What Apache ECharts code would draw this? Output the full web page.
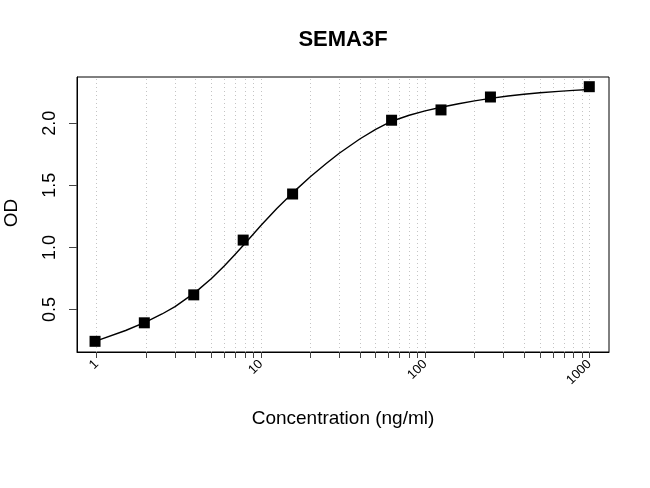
<!DOCTYPE html>
<html>
<head>
<meta charset="utf-8">
<script src="https://cdn.jsdelivr.net/npm/echarts@6/dist/echarts.min.js"></script>
<style>
html,body{margin:0;padding:0;background:#fff;}
#chart{width:650px;height:488px;}
</style>
</head>
<body>
<div id="chart"></div>
<script>
// Measured standards
const concentrations = [0.977, 1.95, 3.9, 7.8, 15.6, 62.5, 125, 250, 1000];
const odValues = [0.244, 0.393, 0.618, 1.059, 1.43, 2.024, 2.107, 2.211, 2.294];

// Fitted curve
const curveX = [0.977, 1.5, 2, 2.5, 3, 4, 5, 6, 7, 8, 10, 12.5, 15.6, 20, 25, 30, 40, 50, 62.5, 80, 100, 125, 160, 200, 250, 320, 400, 500, 650, 800, 1000];
const curveY = [0.243, 0.331, 0.401, 0.464, 0.523, 0.640, 0.750, 0.853, 0.947, 1.032, 1.177, 1.314, 1.439, 1.569, 1.675, 1.758, 1.873, 1.950, 2.016, 2.064, 2.099, 2.128, 2.157, 2.180, 2.200, 2.219, 2.233, 2.245, 2.256, 2.264, 2.271];

// Axis ticks and labels
const xTickValues = [1,2,3,4,5,6,7,8,9,10,20,30,40,50,60,70,80,90,100,200,300,400,500,600,700,800,900,1000];
const xLabelValues = [1, 10, 100, 1000];
const yTickValues = [0.5, 1.0, 1.5, 2.0];

const chartTitle = 'SEMA3F';
const xTitle = 'Concentration (ng/ml)';
const yTitle = 'OD';

const FONT = '"Liberation Sans", Arial, sans-serif';

const chart = echarts.init(document.getElementById('chart'), null, {renderer: 'canvas'});

chart.setOption({
  backgroundColor: '#ffffff',
  animation: false,
  grid: {
    left: 77, top: 77, width: 532, height: 275,
    show: true, borderColor: '#000', borderWidth: 1, backgroundColor: 'transparent',
    containLabel: false, outerBoundsMode: 'none'
  },
  xAxis: {
    type: 'log',
    logBase: 10,
    min: 0.7586,
    max: 1318.3,
    axisLine: {show: true, onZero: false, lineStyle: {color: '#000', width: 1}},
    axisTick: {show: true, customValues: xTickValues, length: 6, lineStyle: {color: '#444', width: 1}},
    axisLabel: {
      show: true, customValues: xLabelValues, rotate: 45, margin: 10,
      fontSize: 13, color: '#000', fontFamily: FONT,
      formatter: v => String(Math.round(v))
    },
    splitLine: {show: false},
    minorTick: {show: false}
  },
  yAxis: {
    type: 'value',
    min: 0.158,
    max: 2.372,
    axisLine: {show: true, onZero: false, lineStyle: {color: '#000', width: 1}},
    axisTick: {show: true, customValues: yTickValues, length: 8, lineStyle: {color: '#444', width: 1}},
    axisLabel: {
      show: true, customValues: yTickValues, rotate: 90, margin: 18,
      fontSize: 18, color: '#000', fontFamily: FONT,
      formatter: v => Number(v).toFixed(1)
    },
    splitLine: {show: false}
  },
  series: [
    {
      name: 'grid',
      type: 'line',
      data: [],
      silent: true,
      z: 1,
      markLine: {
        silent: true,
        z: 1,
        symbol: ['none', 'none'],
        label: {show: false},
        emphasis: {disabled: true},
        lineStyle: {type: [1, 3], color: '#c4c4c4', width: 1},
        data: xTickValues.map(v => ({xAxis: v}))
      }
    },
    {
      name: 'fit',
      type: 'line',
      data: curveX.map((x, i) => [x, curveY[i]]),
      showSymbol: false,
      smooth: false,
      lineStyle: {color: '#000', width: 1.4, join: 'round', cap: 'round'},
      z: 3
    },
    {
      name: 'standards',
      type: 'scatter',
      data: concentrations.map((x, i) => [x, odValues[i]]),
      symbol: 'rect',
      symbolSize: 11,
      itemStyle: {color: '#000', opacity: 1},
      z: 4
    }
  ],
  graphic: [
    {type: 'text', x: 343, y: 40, z: 10,
      style: {text: chartTitle, fontSize: 22, fontWeight: 'bold', fontFamily: FONT, fill: '#000', textAlign: 'center', textVerticalAlign: 'middle'}},
    {type: 'text', x: 343, y: 419, z: 10,
      style: {text: xTitle, fontSize: 19, fontFamily: FONT, fill: '#000', textAlign: 'center', textVerticalAlign: 'middle'}},
    {type: 'text', x: 12, y: 213, rotation: Math.PI / 2, z: 10,
      style: {text: yTitle, fontSize: 19, fontFamily: FONT, fill: '#000', textAlign: 'center', textVerticalAlign: 'middle'}}
  ]
});
</script>
</body>
</html>
